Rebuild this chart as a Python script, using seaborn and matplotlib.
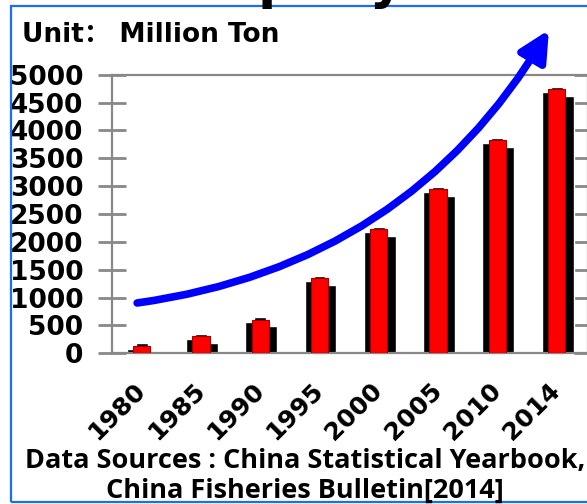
import numpy as np
import matplotlib
matplotlib.use("Agg")
import matplotlib.pyplot as plt
from matplotlib.patches import Rectangle, ArrowStyle
import seaborn as sns

# Aquaculture output by year
years = ["1980", "1985", "1990", "1995", "2000", "2005", "2010", "2014"]
output = [135, 310, 605, 1345, 2225, 2945, 3825, 4740]
y_ticks = [0, 500, 1000, 1500, 2000, 2500, 3000, 3500, 4000, 4500, 5000]

sns.set_style("white")
plt.rcParams["font.family"] = ["DejaVu Sans", "Noto Sans CJK SC"]
plt.rcParams["text.color"] = "black"
plt.rcParams["xtick.labelcolor"] = "black"
plt.rcParams["ytick.labelcolor"] = "black"

W, H = 587, 504
fig = plt.figure(figsize=(W / 100, H / 100), dpi=100)
ax = fig.add_axes([112 / W, 1 - 353.3 / H, 476 / W, 278.6 / H])

vals = np.array(output, dtype=float)
pos = np.arange(len(years))
GRAY = "#888888"

# red front bars
sns.barplot(x=years, y=output, color="#ff0000", saturation=1, width=0.29,
            edgecolor="#a00000", linewidth=0.8, ax=ax, zorder=3)
# black block shading behind each bar
ax.bar(pos - 0.06, np.maximum(vals - 50, 0), width=0.38, color="black", zorder=1)
ax.bar(pos + 0.1435, np.maximum(vals - 120, 0), width=0.287, color="black", zorder=1)
ax.bar(pos, vals + 45, width=0.2, color="black", zorder=2)

ax.set_xlim(-0.5, 7.53)
ax.set_ylim(0, 5000)
ax.set_yticks(y_ticks)
ax.set_yticklabels([str(v) for v in y_ticks], fontsize=19, fontweight="bold")
ax.set_xlabel("")
ax.set_ylabel("")

ax.set_xticks(pos)
ax.set_xticklabels(years, fontsize=18, fontweight="bold")
for lab in ax.get_xticklabels():
    lab.set_rotation(45)
    lab.set_ha("right")
    lab.set_va("center")
    lab.set_rotation_mode("anchor")
ax.set_xticks(np.arange(-0.5, 8, 1.0), minor=True)

ax.tick_params(axis="x", which="major", length=0, pad=24)
ax.tick_params(axis="x", which="minor", direction="out", length=9, width=2, color=GRAY)
ax.tick_params(axis="y", which="major", direction="inout", length=20, width=2,
               color=GRAY, pad=10.5, right=True, left=True, labelright=False)

for sp in ax.spines.values():
    sp.set_visible(True)
    sp.set_color(GRAY)
    sp.set_linewidth(1.6)

# growth arrow
ax.annotate("", xy=(6.87, 5803), xytext=(-0.076, 903), xycoords="data",
            annotation_clip=False,
            arrowprops=dict(arrowstyle=ArrowStyle("-|>", head_length=1.0, head_width=0.5),
                            connectionstyle="arc3,rad=0.24", color="#0000ff", lw=5.5,
                            mutation_scale=18, shrinkA=0, shrinkB=0, clip_on=False))

# frame around the figure
fig.add_artist(Rectangle((11 / W, 1 - 502 / H), (620 - 11) / W, (502 - 6) / H,
                         transform=fig.transFigure, fill=False,
                         edgecolor="#1a6ef5", lw=1.6, zorder=1))

fig.text(293 / W, 1 + 2 / H, "Rapidly", ha="center", va="baseline",
         fontsize=38, fontweight="bold", zorder=5)
fig.text(22 / W, 1 - 42 / H, "Unit： Million Ton", ha="left", va="baseline",
         fontsize=19, fontweight="bold")
fig.text(305 / W, 1 - 468 / H, "Data Sources : China Statistical Yearbook,",
         ha="center", va="baseline", fontsize=19.5, fontweight="bold", family="Open Sans")
fig.text(305 / W, 1 - 498 / H, "China Fisheries Bulletin[2014]",
         ha="center", va="baseline", fontsize=19.5, fontweight="bold", family="Open Sans")

fig.savefig("out.png", dpi=100)
